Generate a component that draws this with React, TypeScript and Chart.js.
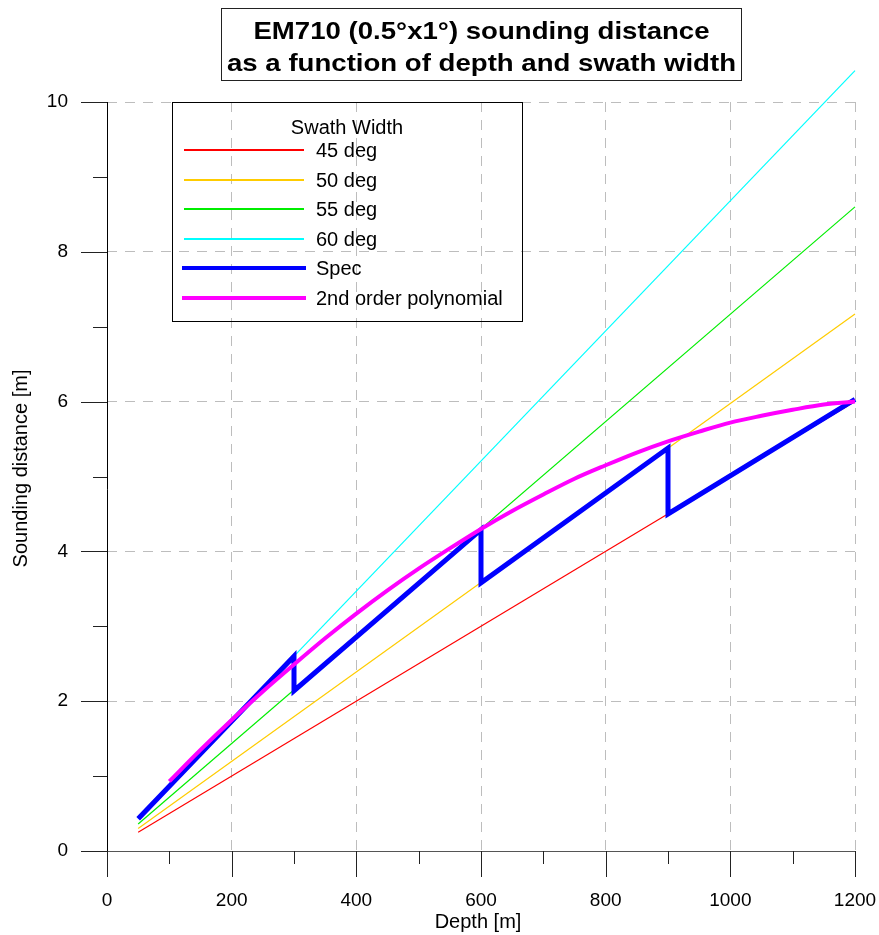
import React, { useEffect, useRef } from "react";
import { Chart, registerables } from "chart.js";

Chart.register(...registerables);

const FONT = "'Liberation Sans', Arial, Helvetica, sans-serif";

const titleLines = ["EM710 (0.5°x1°) sounding distance", "as a function of depth and swath width"];
const legendTitle = "Swath Width";
const xAxisTitle = "Depth [m]";
const yAxisTitle = "Sounding distance [m]";

// Swath width lines (depth [m] -> sounding distance [m])
const swathDepths = [50, 1200];
const swath45 = [0.25, 6.0];
const swath50 = [0.3, 7.17];
const swath55 = [0.36, 8.6];
const swath60 = [0.43, 10.42];

// Spec (saw-tooth)
const specDepths = [50, 300, 300, 600, 600, 900, 900, 1200];
const specValues = [0.43, 2.6, 2.14, 4.29, 3.58, 5.38, 4.5, 6.03];

// 2nd order polynomial
const polyDepths = [100, 150, 200, 250, 300, 350, 400, 450, 500, 550, 600, 650, 700, 750, 800, 850, 900, 950, 1000, 1050, 1100, 1150, 1200];
const polyValues = [0.93, 1.35, 1.75, 2.13, 2.49, 2.84, 3.17, 3.48, 3.77, 4.04, 4.3, 4.54, 4.76, 4.97, 5.15, 5.32, 5.47, 5.6, 5.72, 5.81, 5.89, 5.96, 6.0];

// Axes
const xMin = 0;
const xMax = 1200;
const xMajorStep = 200;
const xMinorTicks = [100, 300, 500, 700, 900, 1100];
const yMin = 0;
const yMax = 10;
const yMajorStep = 2;
const yMinorTicks = [1, 3, 5, 7, 9];

const seriesLabels = ["45 deg", "50 deg", "55 deg", "60 deg", "Spec", "2nd order polynomial"];
const seriesColors = ["#ff0000", "#ffcc00", "#00ee00", "#00ffff", "#0000ff", "#ff00ff"];

const toPoints = (xs: number[], ys: number[]) => xs.map((x, i) => ({ x, y: ys[i] }));

const decorPlugin = {
  id: "decor",
  afterDraw(chart: any) {
    const ctx: CanvasRenderingContext2D = chart.ctx;
    const ca = chart.chartArea;
    const xs = chart.scales.x;
    const ys = chart.scales.y;
    ctx.save();

    // axis lines
    ctx.lineWidth = 1;
    ctx.strokeStyle = "#555";
    ctx.beginPath();
    ctx.moveTo(ca.left - 26, Math.round(ca.bottom) + 0.5);
    ctx.lineTo(ca.right, Math.round(ca.bottom) + 0.5);
    ctx.stroke();
    ctx.strokeStyle = "#000";
    ctx.beginPath();
    ctx.moveTo(Math.round(ca.left) + 0.5, ca.top);
    ctx.lineTo(Math.round(ca.left) + 0.5, ca.bottom + 26);
    ctx.stroke();

    // ticks
    ctx.strokeStyle = "#222";
    const drawX = (v: number, len: number) => {
      const px = Math.round(xs.getPixelForValue(v)) + 0.5;
      ctx.beginPath();
      ctx.moveTo(px, ca.bottom);
      ctx.lineTo(px, ca.bottom + len);
      ctx.stroke();
    };
    const drawY = (v: number, len: number) => {
      const py = Math.round(ys.getPixelForValue(v)) + 0.5;
      ctx.beginPath();
      ctx.moveTo(ca.left, py);
      ctx.lineTo(ca.left - len, py);
      ctx.stroke();
    };
    for (let v = xMin; v <= xMax; v += xMajorStep) drawX(v, 26);
    xMinorTicks.forEach((v) => drawX(v, 13));
    for (let v = yMin; v <= yMax; v += yMajorStep) drawY(v, 26);
    yMinorTicks.forEach((v) => drawY(v, 14));

    // axis titles
    ctx.fillStyle = "#000";
    ctx.font = `20px ${FONT}`;
    ctx.textAlign = "center";
    ctx.textBaseline = "alphabetic";
    ctx.fillText(xAxisTitle, (ca.left + ca.right) / 2 - 3, 928);
    ctx.save();
    ctx.translate(27, (ca.top + ca.bottom) / 2 - 8);
    ctx.rotate(-Math.PI / 2);
    ctx.fillText(yAxisTitle, 0, 0);
    ctx.restore();

    // title box
    ctx.strokeStyle = "#222";
    ctx.strokeRect(221.5, 8.5, 520, 72);
    ctx.font = `bold 24px ${FONT}`;
    const w2 = ctx.measureText(titleLines[1]).width;
    const sx = 509 / w2;
    const cx = 481.5;
    [39, 71].forEach((by, i) => {
      ctx.save();
      ctx.translate(cx, by);
      ctx.scale(sx, 1);
      ctx.fillText(titleLines[i], 0, 0);
      ctx.restore();
    });

    // legend
    ctx.strokeStyle = "#000";
    ctx.lineWidth = 1;
    ctx.strokeRect(172.5, 102.5, 350, 219);
    ctx.font = `20px ${FONT}`;
    ctx.fillText(legendTitle, 347, 134);
    ctx.textAlign = "left";
    chart.data.datasets.forEach((ds: any, i: number) => {
      const base = 157 + i * 29.5;
      const thick = ds.legendWidth > 2;
      const ly = Math.round(base - 7);
      ctx.strokeStyle = ds.borderColor;
      ctx.lineWidth = ds.legendWidth;
      ctx.beginPath();
      ctx.moveTo(thick ? 182 : 184, ly);
      ctx.lineTo(thick ? 306 : 304, ly);
      ctx.stroke();
      ctx.fillStyle = "#000";
      ctx.fillText(ds.label, 316, base);
    });

    ctx.restore();
  },
};

export default function App() {
  const ref = useRef<HTMLCanvasElement | null>(null);

  useEffect(() => {
    if (!ref.current) return;
    const thin = (i: number, ys: number[]) => ({
      label: seriesLabels[i],
      data: toPoints(swathDepths, ys),
      borderColor: seriesColors[i],
      backgroundColor: seriesColors[i],
      borderWidth: 1.2,
      legendWidth: 2,
      showLine: true,
      pointRadius: 0,
      clip: false,
      order: 2,
    });
    const chart = new Chart(ref.current, {
      type: "scatter",
      data: {
        datasets: [
          thin(0, swath45),
          thin(1, swath50),
          thin(2, swath55),
          thin(3, swath60),
          {
            label: seriesLabels[4],
            data: toPoints(specDepths, specValues),
            borderColor: seriesColors[4],
            backgroundColor: seriesColors[4],
            borderWidth: 5,
            legendWidth: 4,
            borderJoinStyle: "miter",
            showLine: true,
            pointRadius: 0,
            clip: false,
            order: 1,
          },
          {
            label: seriesLabels[5],
            data: toPoints(polyDepths, polyValues),
            borderColor: seriesColors[5],
            backgroundColor: seriesColors[5],
            borderWidth: 4,
            legendWidth: 4,
            cubicInterpolationMode: "monotone",
            showLine: true,
            pointRadius: 0,
            clip: false,
            order: 0,
          },
        ] as any,
      },
      options: {
        responsive: false,
        animation: false,
        events: [],
        layout: { autoPadding: false, padding: { left: 0, top: 102, right: 24, bottom: 0 } },
        plugins: {
          legend: { display: false },
          title: { display: false },
          tooltip: { enabled: false },
        },
        scales: {
          x: {
            type: "linear",
            min: xMin,
            max: xMax,
            afterFit: (s: any) => {
              s.height = 84;
              s.paddingLeft = 0;
              s.paddingRight = 0;
              s.paddingTop = 0;
              s.paddingBottom = 0;
            },
            border: { display: false, dash: [10, 8] },
            grid: { color: "#bdbdbd", lineWidth: 1, drawTicks: false },
            ticks: {
              stepSize: xMajorStep,
              padding: 38,
              color: "#000",
              font: { family: FONT, size: 19 },
              maxRotation: 0,
              callback: (v: any) => String(v),
            },
          },
          y: {
            type: "linear",
            min: yMin,
            max: yMax,
            afterFit: (s: any) => {
              s.width = 107;
              s.paddingLeft = 0;
              s.paddingRight = 0;
              s.paddingTop = 0;
              s.paddingBottom = 0;
            },
            border: { display: false, dash: [10, 8] },
            grid: { color: "#bdbdbd", lineWidth: 1, drawTicks: false },
            ticks: {
              stepSize: yMajorStep,
              padding: 39,
              color: "#000",
              font: { family: FONT, size: 19 },
              callback: (v: any) => String(v),
            },
          },
        },
      } as any,
      plugins: [decorPlugin],
    });
    return () => chart.destroy();
  }, []);

  return (
    <div style={{ position: "absolute", left: 0, top: 0, width: 879, height: 935, background: "#fff" }}>
      <canvas ref={ref} width={879} height={935} style={{ width: 879, height: 935, display: "block" }} />
    </div>
  );
}
